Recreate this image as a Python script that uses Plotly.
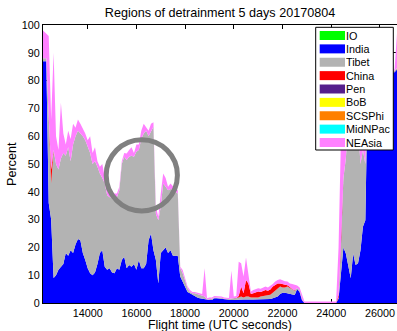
import plotly.graph_objects as go

# Flight time samples (UTC seconds)
flight_time = [
    12165, 12300, 12400, 12500, 12600, 12700, 12800, 12900, 13000, 13100,
    13200, 13300, 13400, 13500, 13600, 13700, 13800, 13900, 14000, 14100,
    14200, 14300, 14400, 14500, 14600, 14700, 14800, 14900, 15000, 15100,
    15200, 15300, 15400, 15500, 15600, 15700, 15800, 15900, 16000, 16100,
    16200, 16300, 16400, 16500, 16600, 16700, 16800, 16900, 17000, 17100,
    17200, 17300, 17400, 17500, 17600, 17700, 17800, 17900, 18000, 18100,
    18200, 18300, 18400, 18500, 18600, 18700, 18800, 18900, 19000, 19100,
    19200, 19300, 19400, 19500, 19600, 19700, 19800, 19900, 20000, 20100,
    20200, 20300, 20400, 20500, 20600, 20700, 20800, 20900, 21000, 21100,
    21200, 21300, 21400, 21500, 21600, 21700, 21800, 21900, 22000, 22100,
    22200, 22300, 22400, 22500, 22600, 22700, 22800, 22900, 23000, 23100,
    23200, 23300, 23400, 23500, 23600, 23700, 23800, 23900, 24000, 24100,
    24200, 24300, 24400, 24500, 24600, 24700, 24800, 24900, 25000, 25100,
    25200, 25300, 25400, 25500, 25600, 25700, 25800, 25900, 26000, 26100,
    26200, 26300, 26400, 26500, 26600, 26700,
]

# Percent of trajectories detraining in each source region
india = [
    87, 87, 36, 30, 9, 10, 12, 13, 14, 18,
    17, 19, 18, 21, 23, 22.6, 18, 15.5, 12.5, 10.7,
    10, 11, 14, 18, 19, 13, 12, 12.5, 11, 10.7,
    12.5, 12, 15.5, 16.6, 12.5, 13.7, 13, 14, 12, 15.5,
    12.5, 12.5, 14, 22.6, 25, 19, 15.5, 7, 18, 19,
    20, 18, 19, 17, 17, 17, 9.5, 7.7, 5.9, 4,
    3.5, 2.9, 2.3, 2, 1.7, 1.5, 1.3, 1.1, 1.1, 1.1,
    1.7, 1.7, 1.6, 1.4, 1.2, 1.1, 1.1, 1.1, 1.1, 1.2,
    1.1, 1.3, 1.3, 1.3, 1.4, 1.3, 1.3, 1.3, 1.3, 1.3,
    1.3, 1.4, 1.4, 1.4, 1.7, 2.0, 2.3, 3.2, 3.7, 3.7,
    3.5, 3.2, 2.9, 2.9, 5.0, 4.0, 1.0, 0, 0, 0,
    0, 0, 0, 0, 0, 0, 0, 0, 0, 0,
    0, 1.5, 10, 20, 17.8, 13, 8.9, 17.8, 13.7, 14.3,
    19, 27.4, 29.8, 79, 82, 81.5, 82.5, 83, 82, 82.5,
    83, 82.5, 83, 83, 83, 84,
]
tibet = [
    1, 1, 31, 13, 46, 40, 36, 39, 40, 35,
    39, 32, 39, 39, 39, 38.4, 42, 43, 43.5, 43.3,
    40, 40, 35, 28.6, 26, 30, 26.8, 25.5, 27, 27.3,
    25.5, 28.6, 34.5, 36, 38.9, 38.9, 40, 38.6, 42.4, 39.5,
    46.5, 48.5, 48, 37.4, 37, 44.4, 16.5, 22.8, 16.6, 24,
    21.8, 22.6, 22, 23.6, 23, 22.4, 3, 3, 1.8, 1.3,
    0.5, 0.6, 1.2, 1.2, 1.2, 1.2, 1.0, 0.2, 0.3, 0.4,
    0.3, 0.3, 0.4, 0.5, 0.3, 0.3, 0.3, 0.5, 0.6, 0.6,
    0.9, 1.0, 0.7, 1.0, 0.9, 0.7, 0.7, 0.6, 0.7, 1.0,
    1.2, 1.1, 1.4, 1.6, 2.0, 2.4, 3.0, 2.7, 1.9, 1.9,
    2.4, 2.1, 1.8, 1.5, 0.4, 0.6, 0.5, 0, 0, 0,
    0, 0, 0, 0, 0, 0, 0, 0, 0, 0,
    0, 0.5, 11, 25, 34.2, 52, 51.1, 45.2, 52.3, 49.7,
    31, 27.6, 20.2, 1, 0.5, 0.5, 0.5, 0.5, 0.5, 0.5,
    0.5, 0.5, 0.5, 0.5, 0.5, 0.5,
]
china = [
    0, 0, 0, 5, 0, 0, 0, 0, 0, 0,
    0, 0, 0, 0, 0, 0, 0, 0, 0, 0,
    0, 0, 0, 0, 0, 0, 0, 0, 0, 0,
    0, 0, 0, 0, 0, 0, 0, 0, 0, 0,
    0, 0, 0, 0, 0, 0, 0, 0, 0, 0,
    0, 0, 0, 0, 0, 0, 0, 0, 0, 0,
    0, 0, 0, 0, 0, 0, 0, 0, 0, 0,
    0, 0, 0, 0, 0, 0, 0, 0, 0, 0,
    0.5, 3.6, 1.5, 6.0, 4.7, 1.2, 1.5, 1.8, 2.1, 1.7,
    1.9, 2.2, 1.6, 1.9, 2.2, 2.1, 1.7, 1.1, 1.2, 1.0,
    0.5, 0.5, 0.3, 0.2, 0, 0, 0, 0, 0, 0,
    0, 0, 0, 0, 0, 0, 0, 0, 0, 0,
    0, 1.0, 0, 0, 0, 0, 0, 0, 0, 0,
    0, 0, 0, 0, 0, 0, 0, 0, 0, 0,
    0, 0, 0, 0, 0, 0,
]
neasia = [
    10, 9, 29, 18, 35, 10, 7, 20, 7, 4,
    6, 8, 7.5, 3, 4, 3.5, 3, 2.5, 2.5, 6,
    4, 5, 2, 2.4, 5, 2, 1.8, 1.4, 2, 1.4,
    1.4, 1.2, 1, 1.4, 2.4, 2.4, 3, 1.4, 2.6, 2,
    3, 3.5, 1, 2, 2.5, 1.6, 2.6, 1.2, 4.8, 3.6,
    3.2, 1.2, 2, 1.2, 1, 1.2, 0.5, 1.2, 1.2, 0.6,
    0.7, 0.5, 0.5, 0.5, 0.6, 0.5, 10.2, 0.4, 0.6, 0.5,
    0.5, 0.5, 0.5, 0.4, 0.5, 0.5, 0.4, 10.0, 0.6, 0.7,
    12.3, 8.4, 6.0, 8.1, 3.7, 0.9, 1.2, 1.2, 1.2, 1.1,
    1.2, 1.2, 1.2, 1.2, 0.9, 1.2, 1.3, 1.5, 1.2, 1.2,
    1.3, 1.2, 1.8, 1.9, 0.9, 1.0, 1.5, 0.5, 0.5, 0.5,
    0.5, 0.5, 0.5, 0.5, 0.5, 0.5, 0.5, 0.5, 0.5, 0.5,
    0.5, 17, 39, 21, 18, 7, 10, 9, 8, 9,
    26, 25, 38, 18, 0.5, 0.5, 0.5, 0.5, 0.5, 0.5,
    0.5, 0.5, 0.5, 0.5, 0.5, 12.5,
]

# Legend entries (all source regions) and their fill colours
regions = ["IO", "India", "Tibet", "China", "Pen", "BoB", "SCSPhi", "MidNPac", "NEAsia"]
region_colors = ["#00ff00", "#0000ff", "#b3b3b3", "#ff0000", "#551e8c",
                 "#ffff00", "#ff8000", "#00ffff", "#ff80ff"]
color_of = dict(zip(regions, region_colors))

x_ticks = [14000, 16000, 18000, 20000, 22000, 24000, 26000]
y_ticks = [0, 10, 20, 30, 40, 50, 60, 70, 80, 90, 100]

W, H = 397, 331
L, R, T, B = 43, 0, 25, 28
PW, PH = W - L - R, H - T - B


def px(x):
    return (x - L) / PW


def py(y):
    return (H - B - y) / PH


FONT = "Liberation Sans, Arial, Helvetica, sans-serif"

fig = go.Figure()
for name, vals in [("India", india), ("Tibet", tibet), ("China", china), ("NEAsia", neasia)]:
    fig.add_trace(go.Scatter(
        x=flight_time, y=vals, name=name, mode="lines",
        line=dict(width=0, color=color_of[name]),
        fillcolor=color_of[name], stackgroup="regions",
        showlegend=False, hoverinfo="skip",
    ))

shapes = []
annotations = []

# Ring highlighting part of the Tibet plateau
cx, cy, r = 141.8, 175.3, 35.6
shapes.append(dict(type="circle", xref="paper", yref="paper",
                   x0=px(cx - r), x1=px(cx + r), y0=py(cy + r), y1=py(cy - r),
                   line=dict(color="#808080", width=5), fillcolor="rgba(0,0,0,0)"))

# Boxed legend in the upper-right corner
shapes.append(dict(type="rect", xref="paper", yref="paper",
                   x0=px(315.7), x1=px(393.3), y0=py(150), y1=py(27.3),
                   line=dict(color="black", width=1), fillcolor="white"))
for i, name in enumerate(regions):
    yc = 35.5 + i * 13.375
    shapes.append(dict(type="rect", xref="paper", yref="paper",
                       x0=px(319.7), x1=px(345), y0=py(yc + 4.5), y1=py(yc - 4.5),
                       line=dict(width=0), fillcolor=color_of[name]))
    annotations.append(dict(text=name, xref="paper", yref="paper",
                            x=px(344.8), y=py(yc), xanchor="left", yanchor="middle",
                            showarrow=False, borderpad=0,
                            font=dict(size=10.8, color="black", family=FONT)))

# Axis titles
annotations.append(dict(text="Flight time (UTC seconds)", xref="paper", yref="paper",
                        x=0.5, y=py(325), xanchor="center", yanchor="middle",
                        showarrow=False, borderpad=0,
                        font=dict(size=12.4, color="black", family=FONT)))
annotations.append(dict(text="Percent", xref="paper", yref="paper",
                        x=px(12), y=0.5, xanchor="center", yanchor="middle", textangle=-90,
                        showarrow=False, borderpad=0,
                        font=dict(size=12.6, color="black", family=FONT)))

axis_common = dict(
    showgrid=False, zeroline=False, showline=True, mirror="ticks",
    linecolor="black", linewidth=1, ticks="inside", ticklen=4, tickwidth=1,
    tickcolor="black", layer="below traces",
    tickfont=dict(size=10.8, color="black", family=FONT),
)

fig.update_layout(
    width=W, height=H,
    margin=dict(l=L, r=R, t=T, b=B, pad=0),
    paper_bgcolor="white", plot_bgcolor="white",
    font=dict(family=FONT, color="black"),
    title=dict(text="Regions of detrainment 5 days 20170804",
               x=0.5 * (L + W - R) / W, xanchor="center",
               y=1 - 12.5 / H, yanchor="middle", yref="container",
               font=dict(size=12.6, color="black", family=FONT)),
    xaxis=dict(range=[flight_time[0], flight_time[-1]], tickvals=x_ticks,
               ticktext=[str(v) for v in x_ticks], **axis_common),
    yaxis=dict(range=[0, 100], tickvals=y_ticks, **axis_common),
    shapes=shapes,
    annotations=annotations,
    showlegend=False,
)

fig.write_html("out.html")
